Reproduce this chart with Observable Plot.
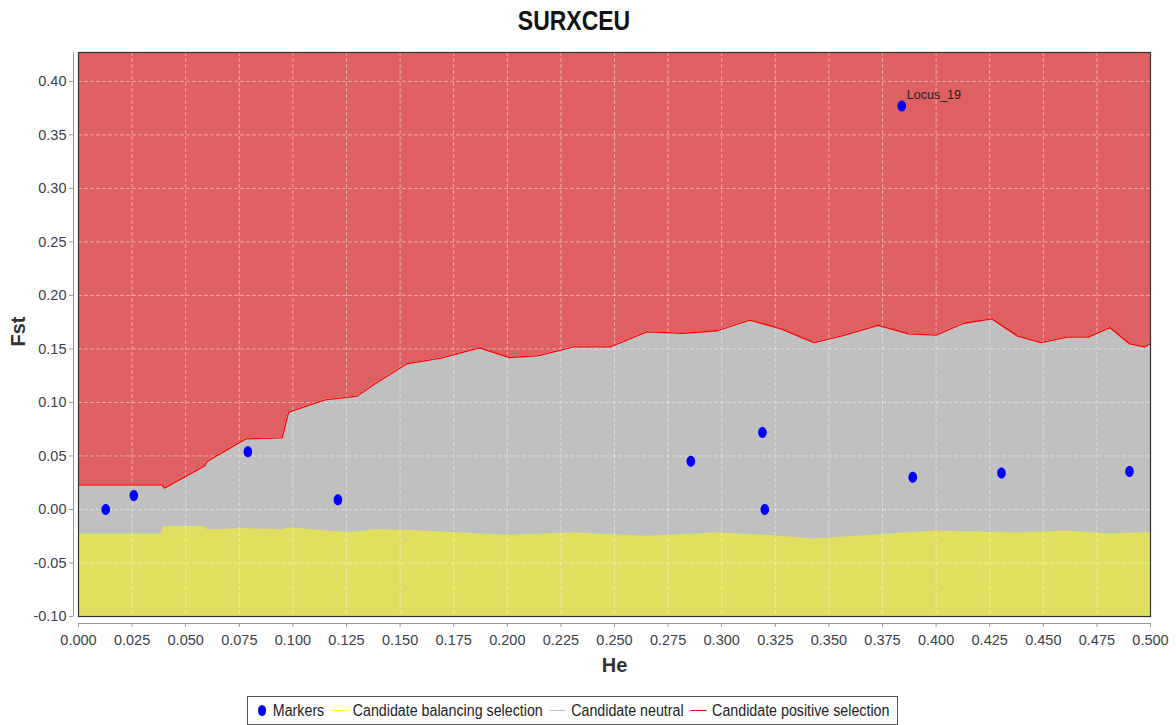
<!DOCTYPE html>
<html>
<head>
<meta charset="utf-8">
<script src="https://cdn.jsdelivr.net/npm/d3@7"></script>
<script src="https://cdn.jsdelivr.net/npm/@observablehq/plot@0.6"></script>
<style>
  html, body { margin: 0; padding: 0; background: #fff; }
  #wrap { position: relative; width: 1176px; height: 725px; overflow: hidden; font-family: "Liberation Sans", Arial, sans-serif; }
  #title { position: absolute; top: 5px; left: 0; width: 1148px; text-align: center; font-weight: bold; font-size: 28px; color: #111; transform: scaleX(0.82); transform-origin: 574px 0; }
  #chart { position: absolute; top: 40px; left: 0; }
  #legend { position: absolute; left: 247px; top: 696px; width: 651px; height: 29px; border: 1px solid #555; box-sizing: border-box; }
  #legend-inner { position: absolute; left: 0; top: 0; width: 651px; height: 27px; display: flex; align-items: center; justify-content: center;
            font-size: 16px; color: #222; white-space: nowrap; transform: scaleX(0.89); transform-origin: 326px 0; }
  .item { display: flex; align-items: center; margin: 0 4px; }
  .sw-dot { width: 9px; height: 11px; border-radius: 50%; background: #0000ff; margin-right: 8px; }
  .sw-line { width: 18px; height: 0; border-top: 1.5px solid; margin-right: 6px; }
</style>
</head>
<body>
<div id="wrap">
  <div id="title">SURXCEU</div>
  <div id="chart"></div>
  <div id="legend"><div id="legend-inner"></div></div>
</div>
<script>
// Upper boundary (neutral / positive selection)
const upperHe  = [0, 0.039, 0.040, 0.059, 0.060, 0.078, 0.095, 0.098, 0.115, 0.130, 0.138, 0.153, 0.169, 0.187, 0.201, 0.214, 0.231, 0.248, 0.265, 0.282, 0.298, 0.313, 0.328, 0.343, 0.356, 0.373, 0.387, 0.400, 0.413, 0.426, 0.438, 0.449, 0.461, 0.471, 0.481, 0.490, 0.497, 0.500];
const upperFst = [0.023, 0.023, 0.020, 0.041, 0.045, 0.066, 0.067, 0.091, 0.1025, 0.106, 0.117, 0.136, 0.1415, 0.151, 0.142, 0.1436, 0.152, 0.152, 0.166, 0.1645, 0.167, 0.177, 0.1686, 0.156, 0.1623, 0.172, 0.164, 0.163, 0.174, 0.178, 0.162, 0.156, 0.161, 0.161, 0.170, 0.155, 0.152, 0.155];

// Lower boundary (balancing / neutral)
const lowerHe  = [0, 0.039, 0.0395, 0.059, 0.060, 0.078, 0.095, 0.098, 0.121, 0.130, 0.138, 0.153, 0.169, 0.178, 0.200, 0.231, 0.265, 0.298, 0.324, 0.343, 0.356, 0.373, 0.400, 0.438, 0.461, 0.481, 0.500];
const lowerFst = [-0.023, -0.023, -0.016, -0.016, -0.019, -0.018, -0.019, -0.017, -0.021, -0.021, -0.019, -0.0195, -0.021, -0.022, -0.024, -0.022, -0.025, -0.022, -0.0245, -0.0275, -0.026, -0.0236, -0.020, -0.022, -0.020, -0.023, -0.0217];

// Markers
const markerHe   = [0.0127, 0.0258, 0.079, 0.121, 0.2856, 0.319, 0.3201, 0.3891, 0.4305, 0.4902, 0.384];
const markerFst  = [0.000, 0.013, 0.054, 0.009, 0.045, 0.072, 0.000, 0.030, 0.034, 0.0355, 0.377];
const markerName = ["", "", "", "", "", "", "", "", "", "", "Locus_19"];

// Axis ticks and domain
const xTicks = d3.range(0, 21).map(i => i * 0.025);
const yTicks = d3.range(-2, 9).map(i => i * 0.05);
const yMin = -0.10, yMax = 0.427;
const xMin = 0, xMax = 0.5;

// Legend entries
const legendLabels = ["Markers", "Candidate balancing selection", "Candidate neutral", "Candidate positive selection"];
const legendColors = ["#0000ff", "#ffff00", "#c0c0c0", "#ff0000"];

const upper = upperHe.map((x, i) => ({x, y: upperFst[i]}));
const lower = lowerHe.map((x, i) => ({x, y: lowerFst[i]}));
const markers = markerHe.map((x, i) => ({x, y: markerFst[i], name: markerName[i]}));

const ellipse = {
  draw(ctx) {
    const rx = 4.3, ry = 5.5, k = 0.5523;
    ctx.moveTo(rx, 0);
    ctx.bezierCurveTo(rx, ry * k, rx * k, ry, 0, ry);
    ctx.bezierCurveTo(-rx * k, ry, -rx, ry * k, -rx, 0);
    ctx.bezierCurveTo(-rx, -ry * k, -rx * k, -ry, 0, -ry);
    ctx.bezierCurveTo(rx * k, -ry, rx, -ry * k, rx, 0);
    ctx.closePath();
  }
};

const font = "'Liberation Sans', Arial, sans-serif";

const chart = Plot.plot({
  width: 1176,
  height: 645,
  marginTop: 12,
  marginLeft: 78,
  marginRight: 26,
  marginBottom: 69,
  style: { fontFamily: font, fontSize: "14.5px", color: "#3a3f4a", background: "transparent" },
  x: { domain: [xMin, xMax] },
  y: { domain: [yMin, yMax] },
  marks: [
    Plot.areaY(upper, { x: "x", y1: "y", y2: () => yMax, fill: "#df6060" }),
    Plot.areaY(upper, { x: "x", y1: () => yMin, y2: "y", fill: "#c0c0c0" }),
    Plot.areaY(lower, { x: "x", y1: () => yMin, y2: "y", fill: "#e0e060" }),
    Plot.gridX(xTicks, { stroke: "#ffffff", strokeOpacity: 0.45, strokeDasharray: "4,2" }),
    Plot.gridY(yTicks, { stroke: "#ffffff", strokeOpacity: 0.45, strokeDasharray: "4,2" }),
    Plot.line(upper, { x: "x", y: "y", stroke: "#ff0000", strokeWidth: 1.3 }),
    Plot.frame({ stroke: "#333", strokeWidth: 1.2 }),
    Plot.ruleX([xMin], { dx: -5, stroke: "#999" }),
    Plot.ruleY([yMin], { dy: 7, stroke: "#999" }),
    Plot.axisY(yTicks, { anchor: "left", dx: -5, tickSize: 4, tickPadding: 3, stroke: "#999", tickFormat: d => d.toFixed(2), label: null }),
    Plot.axisX(xTicks, { anchor: "bottom", dy: 7, tickSize: 4, tickPadding: 7, stroke: "#999", tickFormat: d => d.toFixed(3), label: null }),
    Plot.text(["He"], { frameAnchor: "bottom", dy: 55, fontWeight: "bold", fontSize: 20, fill: "#333" }),
    Plot.text(["Fst"], { frameAnchor: "left", dx: -60, dy: 12, rotate: -90, fontWeight: "bold", fontSize: 20, fill: "#333" }),
    Plot.dot(markers, { x: "x", y: "y", symbol: ellipse, fill: "#0000ff", stroke: null }),
    Plot.text(markers, { x: "x", y: "y", text: "name", dx: 5, dy: -11, textAnchor: "start", fontSize: 12.5, fill: "#222" })
  ]
});
document.getElementById("chart").appendChild(chart);

// Legend
const legend = document.getElementById("legend-inner");
legendLabels.forEach((lab, i) => {
  const item = document.createElement("div");
  item.className = "item";
  const sw = document.createElement("div");
  if (i === 0) { sw.className = "sw-dot"; }
  else { sw.className = "sw-line"; sw.style.borderTopColor = legendColors[i]; }
  const t = document.createElement("span");
  t.textContent = lab;
  item.appendChild(sw);
  item.appendChild(t);
  legend.appendChild(item);
});
</script>
</body>
</html>
